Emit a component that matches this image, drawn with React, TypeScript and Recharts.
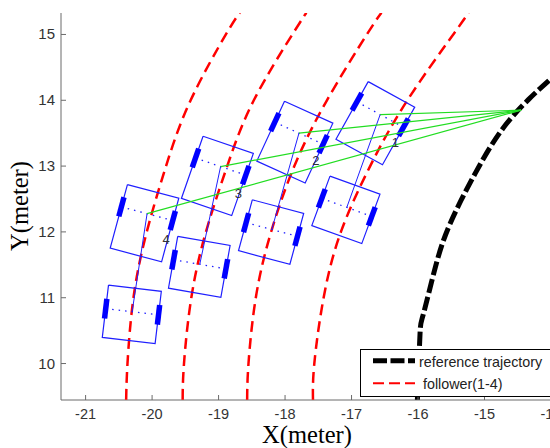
import { ComposedChart, Scatter, XAxis, YAxis } from 'recharts'

type Pt = { x: number; y: number }

const xTicks = [-21, -20, -19, -18, -17, -16, -15, -14]
const yTicks = [10, 11, 12, 13, 14, 15]

// desired follower paths (bottom to top)
const pathY = [9.45, 10, 11, 12, 13, 14, 15, 15.33]
const path1X = [-20.39, -20.37, -20.28, -20.08, -19.79, -19.42, -18.89, -18.68]
const path2X = [-19.54, -19.52, -19.41, -19.19, -18.87, -18.47, -17.89, -17.68]
const path3X = [-18.57, -18.55, -18.44, -18.21, -17.86, -17.37, -16.77, -16.55]
const path4X = [-17.58, -17.56, -17.42, -17.16, -16.72, -16.16, -15.47, -15.24]

const referencePath: Pt[] = [
  { x: -16.01, y: 9.45 }, { x: -15.97, y: 10.45 }, { x: -15.92, y: 10.75 }, { x: -15.74, y: 11.46 },
  { x: -15.52, y: 12.12 }, { x: -15.14, y: 12.89 }, { x: -14.74, y: 13.55 }, { x: -14.34, y: 14.01 },
  { x: -14.02, y: 14.31 },
]

// robots: centre (m) and tilt (deg, clockwise from +y)
const followerX = [-16.642, -17.853, -19.018, -20.114]
const followerY = [13.652, 13.364, 12.851, 12.132]
const followerTilt = [29, 24.6, 19, 15]
const previousX = [-17.085, -18.21, -19.29, -20.305]
const previousY = [12.335, 11.998, 11.469, 10.747]
const previousTilt = [20, 15, 10, 6.7]
const leader: Pt = { x: -14.45, y: 13.85 }

const labelText = ['1', '2', '3', '4']
const labelX = [-16.341, -17.537, -18.702, -19.789]
const labelY = [13.368, 13.094, 12.597, 11.897]

const axisColor = '#6b6b6b'
const textColor = '#333'
const sans = '"Liberation Sans", Arial, sans-serif'
const serif = '"Liberation Serif", "Times New Roman", serif'

function robot(cx: number, cy: number, tilt: number, width: number, length: number, axle: number) {
  const t = (tilt * Math.PI) / 180
  const at = (a: number, b: number): Pt => ({
    x: cx + Math.cos(t) * a + Math.sin(t) * b,
    y: cy - Math.sin(t) * a + Math.cos(t) * b,
  })
  const hw = width / 2
  const hl = length / 2
  const wl = 0.15
  return {
    outline: [at(-hw, hl), at(hw, hl), at(hw, -hl), at(-hw, -hl), at(-hw, hl)],
    axle: [at(-hw, axle), at(hw, axle)],
    centre: at(0, axle),
    wheels: [
      [at(-hw, axle - wl), at(-hw, axle + wl)],
      [at(hw, axle - wl), at(hw, axle + wl)],
    ],
  }
}

const paths = [path1X, path2X, path3X, path4X].map(xs => xs.map((x, i) => ({ x, y: pathY[i] })))
const followers = followerX.map((x, i) => robot(x, followerY[i], followerTilt[i], 0.8, 1.0, 0.15))
const previous = previousX.map((x, i) => robot(x, previousY[i], previousTilt[i], 0.8, 0.8, 0.04))
const labels = labelText.map((label, i) => ({ x: labelX[i], y: labelY[i], label }))

const noDot = () => <g />

function seg(key: string, data: Pt[], stroke: string, width: number, dash?: string, curve = 'linear') {
  return (
    <Scatter
      key={key}
      data={data}
      line={{ stroke, strokeWidth: width, strokeDasharray: dash, fill: 'none' }}
      lineType="joint"
      lineJointType={curve as any}
      shape={noDot}
      isAnimationActive={false}
    />
  )
}

const BottomTick = (p: any) => (
  <g>
    <line x1={p.x} x2={p.x} y1={p.y} y2={p.y - 5} stroke={axisColor} />
    <text x={p.x} y={p.y + 19} textAnchor="middle" fontSize={14.5} fill={textColor} fontFamily={sans}>
      {p.payload.value}
    </text>
  </g>
)
const TopTick = (p: any) => <line x1={p.x} x2={p.x} y1={p.y} y2={p.y + 5} stroke={axisColor} />
const LeftTick = (p: any) => (
  <g>
    <line x1={p.x} x2={p.x + 5} y1={p.y} y2={p.y} stroke={axisColor} />
    <text x={p.x - 6} y={p.y + 5} textAnchor="end" fontSize={15} fill={textColor} fontFamily={sans}>
      {p.payload.value}
    </text>
  </g>
)

export default function App() {
  const blue = '#1f1fff'
  return (
    <div style={{ position: 'absolute', left: 0, top: 0, width: 550, height: 448, overflow: 'hidden', background: '#fff' }}>
      <ComposedChart width={551} height={448} margin={{ top: 13, right: 0, bottom: 0, left: 0 }}>
        <XAxis
          dataKey="x"
          type="number"
          domain={[-21.37, -14]}
          ticks={xTicks}
          interval={0}
          allowDataOverflow
          height={48}
          tickSize={0}
          tickMargin={0}
          tick={BottomTick}
          axisLine={{ stroke: axisColor }}
          label={{
            content: () => (
              <text x={307} y={443} textAnchor="middle" fontSize={24.5} fontFamily={serif} fill="#000">
                X(meter)
              </text>
            ),
          }}
        />
        <XAxis
          xAxisId="top"
          orientation="top"
          type="number"
          domain={[-21.37, -14]}
          ticks={xTicks}
          interval={0}
          allowDataOverflow
          height={0}
          tickSize={0}
          tickMargin={0}
          tick={TopTick}
          axisLine={{ stroke: axisColor }}
        />
        <YAxis
          dataKey="y"
          type="number"
          domain={[9.446, 15.326]}
          ticks={yTicks}
          interval={0}
          allowDataOverflow
          width={61}
          tickSize={0}
          tickMargin={0}
          tick={LeftTick}
          axisLine={{ stroke: axisColor }}
          label={{
            content: () => (
              <text
                x={28}
                y={206}
                transform="rotate(-90 28 206)"
                textAnchor="middle"
                fontSize={24.5}
                fontFamily={serif}
                fill="#000"
              >
                Y(meter)
              </text>
            ),
          }}
        />

        {paths.map((p, i) => seg(`red${i}`, p, '#ff0000', 2.5, '11 6', 'natural'))}
        {seg('ref', referencePath, '#000', 5, '14 4', 'natural')}

        {previous.map((r, i) => seg(`pb${i}`, r.outline, blue, 1.2))}
        {previous.map((r, i) => seg(`pa${i}`, r.axle, blue, 1.3, '1.5 5'))}
        {previous.flatMap((r, i) => r.wheels.map((w, j) => seg(`pw${i}${j}`, w, '#0000ff', 5.5)))}

        {followers.map((r, i) => seg(`fb${i}`, r.outline, blue, 1.2))}
        {followers.map((r, i) => seg(`fa${i}`, r.axle, blue, 1.3, '1.5 5'))}
        {followers.flatMap((r, i) => r.wheels.map((w, j) => seg(`fw${i}${j}`, w, '#0000ff', 5.5)))}
        {followers.map((r, i) => seg(`link${i}`, [r.centre, previous[i].centre], blue, 1))}

        {followers.map((r, i) => seg(`green${i}`, [r.centre, leader], '#22dd22', 1.2))}

        <Scatter
          data={labels}
          isAnimationActive={false}
          shape={(p: any) => (
            <text x={p.cx} y={p.cy + 5} textAnchor="middle" fontSize={13} fontFamily={sans} fill={textColor}>
              {p.payload.label}
            </text>
          )}
        />
      </ComposedChart>

      <div
        style={{
          position: 'absolute',
          left: 360,
          top: 349,
          width: 200,
          height: 48,
          border: '1px solid #000',
          background: '#fff',
          boxSizing: 'border-box',
        }}
      >
        <svg width={198} height={46} style={{ display: 'block' }}>
          <line x1={12} x2={54} y1={10.7} y2={10.7} stroke="#000" strokeWidth={5} strokeDasharray="14 3.5" />
          <text x={58} y={16.5} fontSize={14.3} fontFamily={sans} fill="#222">
            reference trajectory
          </text>
          <line x1={12} x2={54} y1={33.3} y2={33.3} stroke="#ff0000" strokeWidth={2} strokeDasharray="11 5" />
          <text x={62} y={39} fontSize={14.3} fontFamily={sans} fill="#222">
            follower(1-4)
          </text>
        </svg>
      </div>
    </div>
  )
}
